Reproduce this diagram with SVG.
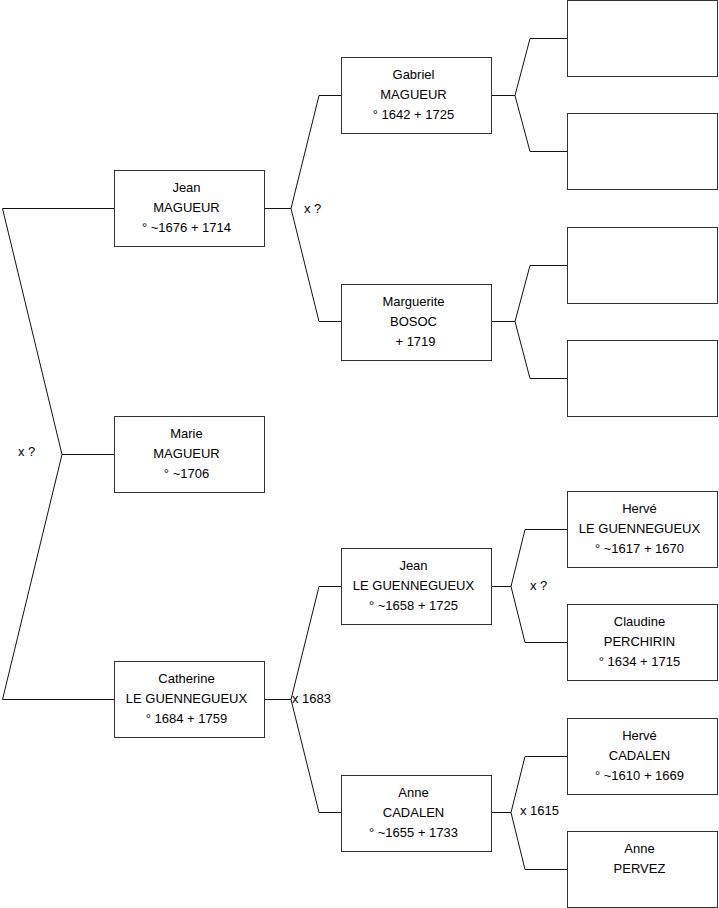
<svg xmlns="http://www.w3.org/2000/svg" width="719" height="908" viewBox="0 0 719 908">
<style>
.box{fill:#fff;stroke:#333;stroke-width:1}
.ln{fill:none;stroke:#111;stroke-width:1}
text{font-family:"Liberation Sans",Arial,sans-serif;font-size:13px;fill:#000}
.c{text-anchor:middle}
</style>
<rect x="0" y="0" width="719" height="908" fill="#fff"/>
<g id="connectors">
<polyline class="ln" points="114,208.5 2.5,208.5 62,454.5 2.5,699.5 114,699.5"/>
<line class="ln" x1="62" y1="454.5" x2="114" y2="454.5"/>
<polyline class="ln" points="341,95.5 319,95.5 291,208.5 319,321.5 341,321.5"/>
<line class="ln" x1="265" y1="208.5" x2="291" y2="208.5"/>
<polyline class="ln" points="341,586.5 319,586.5 291,699.5 319,812.5 341,812.5"/>
<line class="ln" x1="265" y1="699.5" x2="291" y2="699.5"/>
<polyline class="ln" points="567,38.5 530,38.5 515,95.5 530,151.5 567,151.5"/>
<line class="ln" x1="492" y1="95.5" x2="515" y2="95.5"/>
<polyline class="ln" points="567,265.5 530,265.5 515,321.5 530,378.5 567,378.5"/>
<line class="ln" x1="492" y1="321.5" x2="515" y2="321.5"/>
<polyline class="ln" points="567,529.5 525,529.5 511,586.5 525,642.5 567,642.5"/>
<line class="ln" x1="492" y1="586.5" x2="511" y2="586.5"/>
<polyline class="ln" points="567,756.5 525,756.5 511,812.5 525,869.5 567,869.5"/>
<line class="ln" x1="492" y1="812.5" x2="511" y2="812.5"/>
<text x="18" y="456">x ?</text>
<text x="304" y="212.5">x ?</text>
<text x="292" y="703">x 1683</text>
<text x="530" y="589.5">x ?</text>
<text x="520" y="815">x 1615</text>
</g>
<g id="jean-magueur">
<rect class="box" x="114.5" y="170.5" width="150" height="76"/>
<text class="c" x="186.5" y="191.5">Jean</text>
<text class="c" x="186.5" y="211.5">MAGUEUR</text>
<text class="c" x="186.5" y="231.5">° ~1676 + 1714</text>
</g>
<g id="marie-magueur">
<rect class="box" x="114.5" y="416.5" width="150" height="76"/>
<text class="c" x="186.5" y="437.5">Marie</text>
<text class="c" x="186.5" y="457.5">MAGUEUR</text>
<text class="c" x="186.5" y="477.5">° ~1706</text>
</g>
<g id="catherine-le-guennegueux">
<rect class="box" x="114.5" y="661.5" width="150" height="76"/>
<text class="c" x="186.5" y="682.5">Catherine</text>
<text class="c" x="186.5" y="702.5">LE GUENNEGUEUX</text>
<text class="c" x="186.5" y="722.5">° 1684 + 1759</text>
</g>
<g id="gabriel-magueur">
<rect class="box" x="341.5" y="57.5" width="150" height="76"/>
<text class="c" x="413.5" y="78.5">Gabriel</text>
<text class="c" x="413.5" y="98.5">MAGUEUR</text>
<text class="c" x="413.5" y="118.5">° 1642 + 1725</text>
</g>
<g id="marguerite-bosoc">
<rect class="box" x="341.5" y="284.5" width="150" height="76"/>
<text class="c" x="413.5" y="305.5">Marguerite</text>
<text class="c" x="413.5" y="325.5">BOSOC</text>
<text class="c" x="415.5" y="345.5">+ 1719</text>
</g>
<g id="jean-le-guennegueux">
<rect class="box" x="341.5" y="548.5" width="150" height="76"/>
<text class="c" x="413.5" y="569.5">Jean</text>
<text class="c" x="413.5" y="589.5">LE GUENNEGUEUX</text>
<text class="c" x="413.5" y="609.5">° ~1658 + 1725</text>
</g>
<g id="anne-cadalen">
<rect class="box" x="341.5" y="775.5" width="150" height="76"/>
<text class="c" x="413.5" y="796.5">Anne</text>
<text class="c" x="413.5" y="816.5">CADALEN</text>
<text class="c" x="413.5" y="836.5">° ~1655 + 1733</text>
</g>
<g id="empty-1"><rect class="box" x="567.5" y="0.5" width="150" height="76"/></g>
<g id="empty-2"><rect class="box" x="567.5" y="113.5" width="150" height="76"/></g>
<g id="empty-3"><rect class="box" x="567.5" y="227.5" width="150" height="76"/></g>
<g id="empty-4"><rect class="box" x="567.5" y="340.5" width="150" height="76"/></g>
<g id="herve-le-guennegueux">
<rect class="box" x="567.5" y="491.5" width="150" height="76"/>
<text class="c" x="639.5" y="512.5">Hervé</text>
<text class="c" x="639.5" y="532.5">LE GUENNEGUEUX</text>
<text class="c" x="639.5" y="552.5">° ~1617 + 1670</text>
</g>
<g id="claudine-perchirin">
<rect class="box" x="567.5" y="604.5" width="150" height="76"/>
<text class="c" x="639.5" y="625.5">Claudine</text>
<text class="c" x="639.5" y="645.5">PERCHIRIN</text>
<text class="c" x="639.5" y="665.5">° 1634 + 1715</text>
</g>
<g id="herve-cadalen">
<rect class="box" x="567.5" y="718.5" width="150" height="76"/>
<text class="c" x="639.5" y="739.5">Hervé</text>
<text class="c" x="639.5" y="759.5">CADALEN</text>
<text class="c" x="639.5" y="779.5">° ~1610 + 1669</text>
</g>
<g id="anne-pervez">
<rect class="box" x="567.5" y="831.5" width="150" height="76"/>
<text class="c" x="639.5" y="852.5">Anne</text>
<text class="c" x="639.5" y="872.5">PERVEZ</text>
</g>
</svg>
